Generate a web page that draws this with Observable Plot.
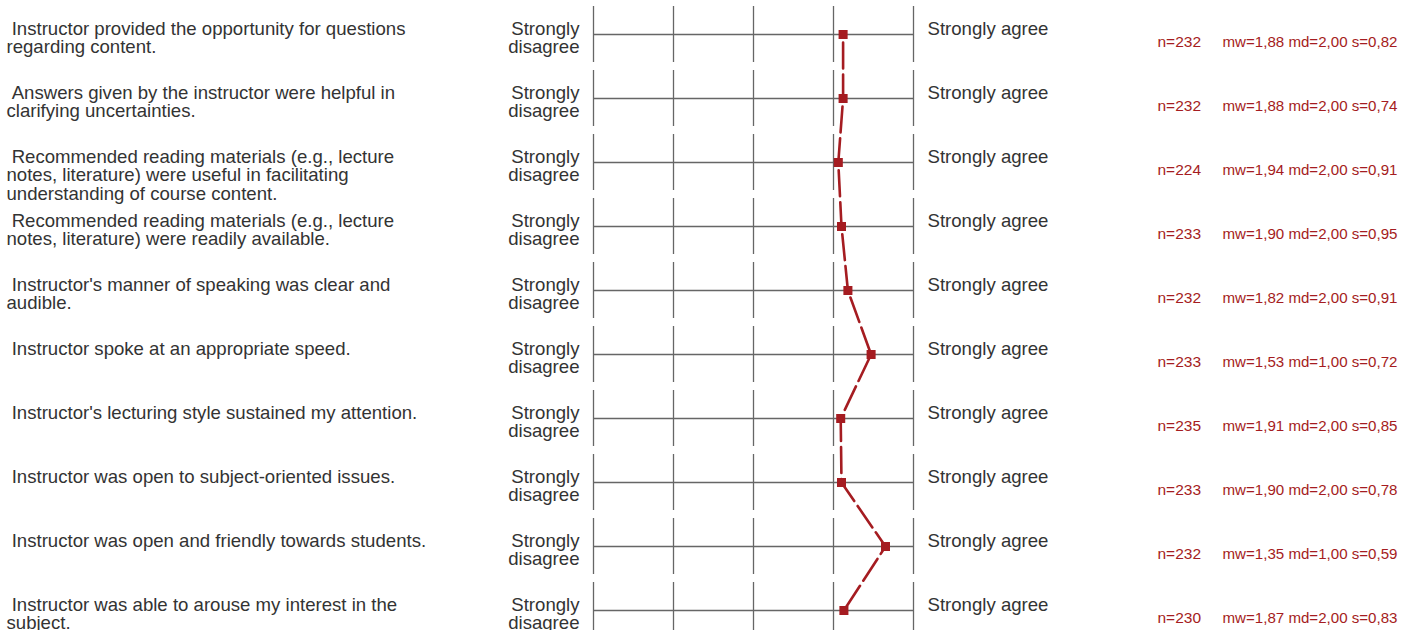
<!DOCTYPE html>
<html>
<head>
<meta charset="utf-8">
<script src="https://cdn.jsdelivr.net/npm/d3@7"></script>
<script src="https://cdn.jsdelivr.net/npm/@observablehq/plot@0.6"></script>
<style>
  html, body { margin: 0; padding: 0; background: #fff; }
  #chart svg { display: block; }
</style>
</head>
<body>
<div id="chart"></div>
<script>
// ---- data ----
const questions = [
  "\u00a0Instructor provided the opportunity for questions\nregarding content.",
  "\u00a0Answers given by the instructor were helpful in\nclarifying uncertainties.",
  "\u00a0Recommended reading materials (e.g., lecture\nnotes, literature) were useful in facilitating\nunderstanding of course content.",
  "\u00a0Recommended reading materials (e.g., lecture\nnotes, literature) were readily available.",
  "\u00a0Instructor's manner of speaking was clear and\naudible.",
  "\u00a0Instructor spoke at an appropriate speed.",
  "\u00a0Instructor's lecturing style sustained my attention.",
  "\u00a0Instructor was open to subject-oriented issues.",
  "\u00a0Instructor was open and friendly towards students.",
  "\u00a0Instructor was able to arouse my interest in the\nsubject."
];
const nValues  = [232, 232, 224, 233, 232, 233, 235, 233, 232, 230];
const mwValues = [1.88, 1.88, 1.94, 1.90, 1.82, 1.53, 1.91, 1.90, 1.35, 1.87];
const mdValues = [2.00, 2.00, 2.00, 2.00, 2.00, 1.00, 2.00, 2.00, 1.00, 2.00];
const sValues  = [0.82, 0.74, 0.91, 0.95, 0.91, 0.72, 0.85, 0.78, 0.59, 0.83];
const scaleLevels = [1, 2, 3, 4, 5];
const leftPole  = "Strongly\ndisagree";
const rightPole = "Strongly agree";

// ---- build tables ----
const fmt = v => d3.format(".2f")(v).replace(".", ",");
const rows = questions.map((q, i) => ({
  row: i,
  question: q,
  n: nValues[i],
  mw: mwValues[i],
  md: mdValues[i],
  s: sValues[i],
  nText: `n=${nValues[i]}`,
  statText: `mw=${fmt(mwValues[i])} md=${fmt(mdValues[i])} s=${fmt(sValues[i])}`
}));
const ticks = rows.flatMap(r => scaleLevels.map(l => ({row: r.row, level: l})));
const lo = d3.min(scaleLevels), hi = d3.max(scaleLevels);

const red = "#a51c21";
const grid = "#666";
const textColor = "#333";
const fs = 18.6;

const chart = Plot.plot({
  width: 1402,
  height: 630,
  margin: 0,
  x: {domain: [hi, lo], range: [593, 913], axis: null},
  y: {domain: [0, rows.length - 1], range: [34, 610], axis: null},
  style: {fontFamily: "'Liberation Sans', Arial, sans-serif", background: "#fff"},
  marks: [
    Plot.ruleX(ticks, {x: "level", y1: d => d.row - 0.4375, y2: d => d.row + 0.4375, stroke: grid, strokeWidth: 1.3}),
    Plot.ruleY(rows, {y: "row", x1: () => hi, x2: () => lo, stroke: grid, strokeWidth: 1.3}),
    Plot.line(rows, {x: "mw", y: "row", stroke: red, strokeWidth: 2.6, strokeDasharray: "26,6", strokeDashoffset: -8}),
    Plot.dot(rows, {x: "mw", y: "row", symbol: "square", r: 5.1, fill: red, stroke: "none"}),
    Plot.text(rows, {y: "row", text: "question", frameAnchor: "left", dx: 6, textAnchor: "start",
      lineAnchor: "top", dy: -12.7, fontSize: fs, lineHeight: 0.995, fill: textColor}),
    Plot.text(rows, {x: () => hi, y: "row", text: () => leftPole, textAnchor: "end", dx: -14,
      lineAnchor: "top", dy: -12.7, fontSize: fs, lineHeight: 0.995, fill: textColor}),
    Plot.text(rows, {x: () => lo, y: "row", text: () => rightPole, textAnchor: "start", dx: 14,
      lineAnchor: "top", dy: -12.7, fontSize: fs, lineHeight: 0.995, fill: textColor}),
    Plot.text(rows, {y: "row", text: "nText", frameAnchor: "left", dx: 1157, textAnchor: "start",
      lineAnchor: "top", dy: 1.7, fontSize: 15.5, fill: red}),
    Plot.text(rows, {y: "row", text: "statText", frameAnchor: "right", dx: -5, textAnchor: "end",
      lineAnchor: "top", dy: 1.9, fontSize: 15.1, fill: red})
  ]
});
document.getElementById("chart").append(chart);
</script>
</body>
</html>
